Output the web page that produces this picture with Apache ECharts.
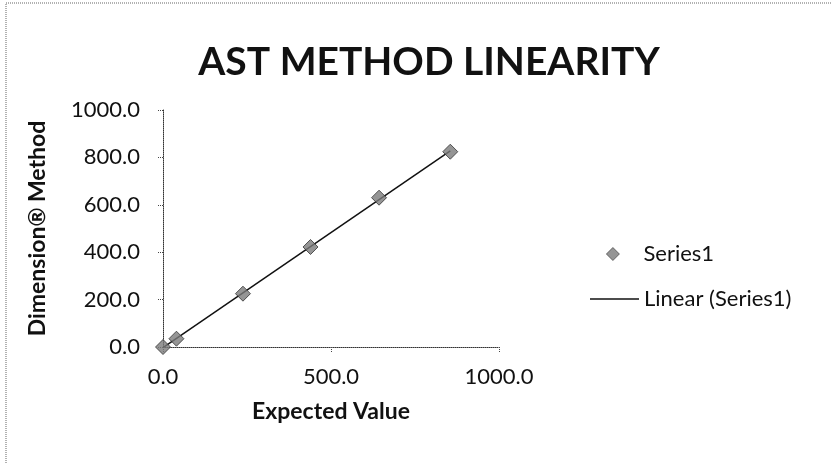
<!DOCTYPE html>
<html>
<head>
<meta charset="utf-8">
<script src="https://cdn.jsdelivr.net/npm/echarts@6/dist/echarts.min.js"></script>
<style>
html,body{margin:0;padding:0;background:#fff;}
#c{width:832px;height:464px;}
</style>
</head>
<body>
<div id="c"></div>
<script>
var titleText = 'AST METHOD LINEARITY';
var xName = 'Expected Value';
var yName = 'Dimension\u00AE Method';
var seriesName = 'Series1';
var trendName = 'Linear (Series1)';
var expected = [0, 40, 238, 439, 643, 855];
var measured = [0, 35, 225, 422, 630, 824];

// least-squares linear trendline
var n = expected.length, sx = 0, sy = 0, sxx = 0, sxy = 0;
for (var i = 0; i < n; i++) { sx += expected[i]; sy += measured[i]; sxx += expected[i]*expected[i]; sxy += expected[i]*measured[i]; }
var slope = (n*sxy - sx*sy) / (n*sxx - sx*sx);
var intercept = (sy - slope*sx) / n;
var xMin = Math.min.apply(null, expected), xMax = Math.max.apply(null, expected);
var trend = [[xMin, slope*xMin + intercept], [xMax, slope*xMax + intercept]];
var points = expected.map(function (x, i) { return [x, measured[i]]; });

var FONT = 'Lato';
var chart = echarts.init(document.getElementById('c'), null, {renderer: 'canvas'});
chart.setOption({
  animation: false,
  backgroundColor: '#fff',
  title: {
    text: titleText, left: 424, top: 38, textAlign: 'center',
    textStyle: {fontFamily: FONT, fontWeight: 'bold', fontSize: 39, color: '#111'}
  },
  graphic: [{
    type: 'rect', shape: {x: 6, y: 3, width: 840, height: 470},
    style: {fill: 'none', stroke: '#999', lineWidth: 1.5, lineDash: [1, 1]}, silent: true
  }],
  legend: [{
    orient: 'vertical', left: 601, top: 238, itemWidth: 13, itemHeight: 13,
    textStyle: {fontFamily: FONT, fontSize: 22, color: '#111', padding: [0, 0, 0, 19]},
    itemStyle: {borderWidth: 0.8, borderColor: '#333'},
    data: [{name: seriesName, icon: 'diamond'}]
  }, {
    orient: 'vertical', left: 585, top: 283, itemWidth: 49, itemHeight: 1.5,
    textStyle: {fontFamily: FONT, fontSize: 22, color: '#111'},
    data: [{name: trendName, icon: 'rect'}]
  }],
  grid: {left: 163, right: 333, top: 110, bottom: 117},
  xAxis: {
    type: 'value', min: 0, max: 1000, interval: 500,
    name: xName, nameLocation: 'middle', nameGap: 53,
    nameTextStyle: {fontFamily: FONT, fontWeight: 'bold', fontSize: 23, color: '#111'},
    axisLine: {show: true, lineStyle: {color: '#333', type: [1, 1], width: 1}},
    axisTick: {show: true, length: 6, inside: false, lineStyle: {color: '#444', type: [1, 1]}},
    axisLabel: {fontFamily: FONT, fontSize: 22, color: '#111', margin: 19,
      formatter: function (v) { return v.toFixed(1); }},
    splitLine: {show: false}
  },
  yAxis: {
    type: 'value', min: 0, max: 1000, interval: 200,
    name: yName, nameLocation: 'middle', nameGap: 114, nameRotate: 90,
    nameTextStyle: {fontFamily: FONT, fontWeight: 'bold', fontSize: 23, color: '#111'},
    axisLine: {show: true, lineStyle: {color: '#333', type: [1, 1], width: 1}},
    axisTick: {show: true, length: 5, inside: false, lineStyle: {color: '#444', type: [1, 1]}},
    axisLabel: {fontFamily: FONT, fontSize: 22, color: '#111', margin: 23,
      formatter: function (v) { return v.toFixed(1); }},
    splitLine: {show: false}
  },
  series: [
    {
      name: trendName, type: 'line', data: trend, showSymbol: false, symbol: 'none',
      lineStyle: {color: '#111', width: 1.5}, itemStyle: {color: '#111'}, z: 2
    },
    {
      name: seriesName, type: 'scatter', data: points, symbol: 'diamond', symbolSize: 15,
      itemStyle: {color: '#7a7a7a', borderColor: '#333', borderWidth: 1}, z: 3
    }
  ]
});
</script>
</body>
</html>
